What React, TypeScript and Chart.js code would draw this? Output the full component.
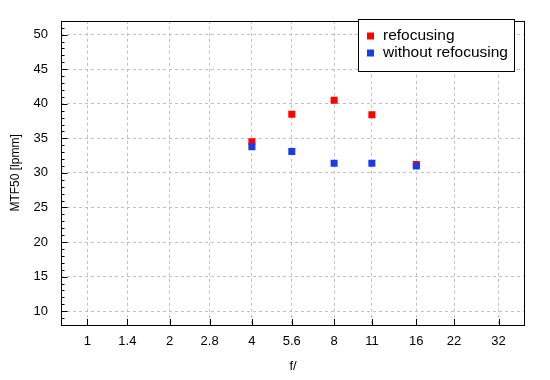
import React, { useEffect, useRef } from "react";
import { Chart, registerables } from "chart.js";

Chart.register(...registerables);

const xTickValues = [1, 1.4, 2, 2.8, 4, 5.6, 8, 11, 16, 22, 32];
const xTickLabels = ["1", "1.4", "2", "2.8", "4", "5.6", "8", "11", "16", "22", "32"];
const yTickValues = [10, 15, 20, 25, 30, 35, 40, 45, 50];

const fStops = [4, 5.6, 8, 11, 16];
const refocusing = [34.5, 38.5, 40.5, 38.4, 31.2];
const withoutRefocusing = [33.8, 33.1, 31.4, 31.4, 31.0];

const seriesNames = ["refocusing", "without refocusing"];
const RED = "#ff0000";
const BLUE = "#1a3ce6";

const FONT = "'Liberation Sans', Arial, sans-serif";

const framePlugin = {
  id: "frameTicksLegend",
  afterDraw(chart: any) {
    const { ctx, chartArea } = chart;
    const { left, right, top, bottom } = chartArea;
    const ys = chart.scales.y;
    const xs = chart.scales.x;
    ctx.save();
    ctx.strokeStyle = "#000";
    ctx.lineWidth = 1;
    ctx.setLineDash([]);
    ctx.strokeRect(Math.round(left) + 0.5, Math.round(top) + 0.5, Math.round(right - left) - 1, Math.round(bottom - top));
    ctx.beginPath();
    for (let v = Math.ceil(ys.min); v <= Math.floor(ys.max); v++) {
      const py = Math.round(ys.getPixelForValue(v)) + 0.5;
      const len = v % 5 === 0 ? 6 : 3;
      ctx.moveTo(Math.round(left), py);
      ctx.lineTo(Math.round(left) + len + 0.5, py);
    }
    for (const v of xTickValues) {
      const px = Math.round(xs.getPixelForValue(v)) + 0.5;
      ctx.moveTo(px, Math.round(bottom));
      ctx.lineTo(px, Math.round(bottom) - 6);
    }
    ctx.stroke();

    const bx = 358.5, by = 19.5, bw = 156, bh = 52;
    ctx.fillStyle = "#fff";
    ctx.fillRect(bx, by, bw, bh);
    ctx.strokeStyle = "#000";
    ctx.strokeRect(bx, by, bw, bh);
    const colors = [RED, BLUE];
    ctx.font = `15.5px ${FONT}`;
    ctx.textBaseline = "middle";
    ctx.textAlign = "left";
    seriesNames.forEach((name, i) => {
      const cy = 36 + i * 16.5;
      ctx.fillStyle = colors[i];
      ctx.fillRect(367, Math.round(cy) - 3.5, 7, 7);
      ctx.fillStyle = "#000";
      ctx.fillText(name, 383, cy);
    });
    ctx.restore();
  },
};

export default function App() {
  const ref = useRef<HTMLCanvasElement | null>(null);
  useEffect(() => {
    if (!ref.current) return;
    const chart = new Chart(ref.current, {
      type: "scatter",
      data: {
        datasets: [
          {
            label: seriesNames[1],
            data: fStops.map((x, i) => ({ x, y: withoutRefocusing[i] })),
            backgroundColor: BLUE,
            borderColor: BLUE,
            pointStyle: "rect",
            pointRadius: 4.95,
            pointBorderWidth: 0,
            showLine: false,
          },
          {
            label: seriesNames[0],
            data: fStops.map((x, i) => ({ x, y: refocusing[i] })),
            backgroundColor: RED,
            borderColor: RED,
            pointStyle: "rect",
            pointRadius: 4.95,
            pointBorderWidth: 0,
            showLine: false,
          },
        ],
      },
      options: {
        animation: false,
        responsive: false,
        devicePixelRatio: 1,
        layout: { padding: { top: 16, right: 25, left: 0, bottom: 0 } },
        plugins: { legend: { display: false }, tooltip: { enabled: false } },
        scales: {
          x: {
            type: "logarithmic",
            min: 0.8,
            max: 40,
            afterBuildTicks: (scale: any) => {
              scale.ticks = xTickValues.map((v) => ({ value: v }));
            },
            afterFit: (scale: any) => {
              scale.height = 55;
            },
            ticks: {
              autoSkip: false,
              maxRotation: 0,
              padding: 9,
              color: "#000",
              font: { family: FONT, size: 13 },
              callback: (_v: any, i: number) => xTickLabels[i],
            },
            grid: { color: "#c0c0c0", drawTicks: false, lineWidth: 1 },
            border: { display: false, dash: [3, 3] },
            title: {
              display: true,
              text: "f/",
              color: "#000",
              font: { family: FONT, size: 13 },
              padding: { top: 0, bottom: 6 },
            },
          },
          y: {
            type: "linear",
            min: 8,
            max: 52,
            afterBuildTicks: (scale: any) => {
              scale.ticks = yTickValues.map((v) => ({ value: v }));
            },
            afterFit: (scale: any) => {
              scale.width = 61;
            },
            ticks: {
              padding: 13,
              color: "#000",
              font: { family: FONT, size: 13 },
            },
            grid: { color: "#c0c0c0", drawTicks: false, lineWidth: 1 },
            border: { display: false, dash: [3, 3] },
            title: {
              display: true,
              text: "MTF50 [lpmm]",
              color: "#000",
              font: { family: FONT, size: 12 },
              padding: { top: 8, bottom: 0 },
            },
          },
        },
      },
      plugins: [framePlugin],
    });
    return () => chart.destroy();
  }, []);
  return (
    <div style={{ position: "fixed", left: 0, top: 0, width: 550, height: 380, background: "#fff" }}>
      <canvas ref={ref} width={550} height={380} style={{ width: 550, height: 380, display: "block" }} />
    </div>
  );
}
